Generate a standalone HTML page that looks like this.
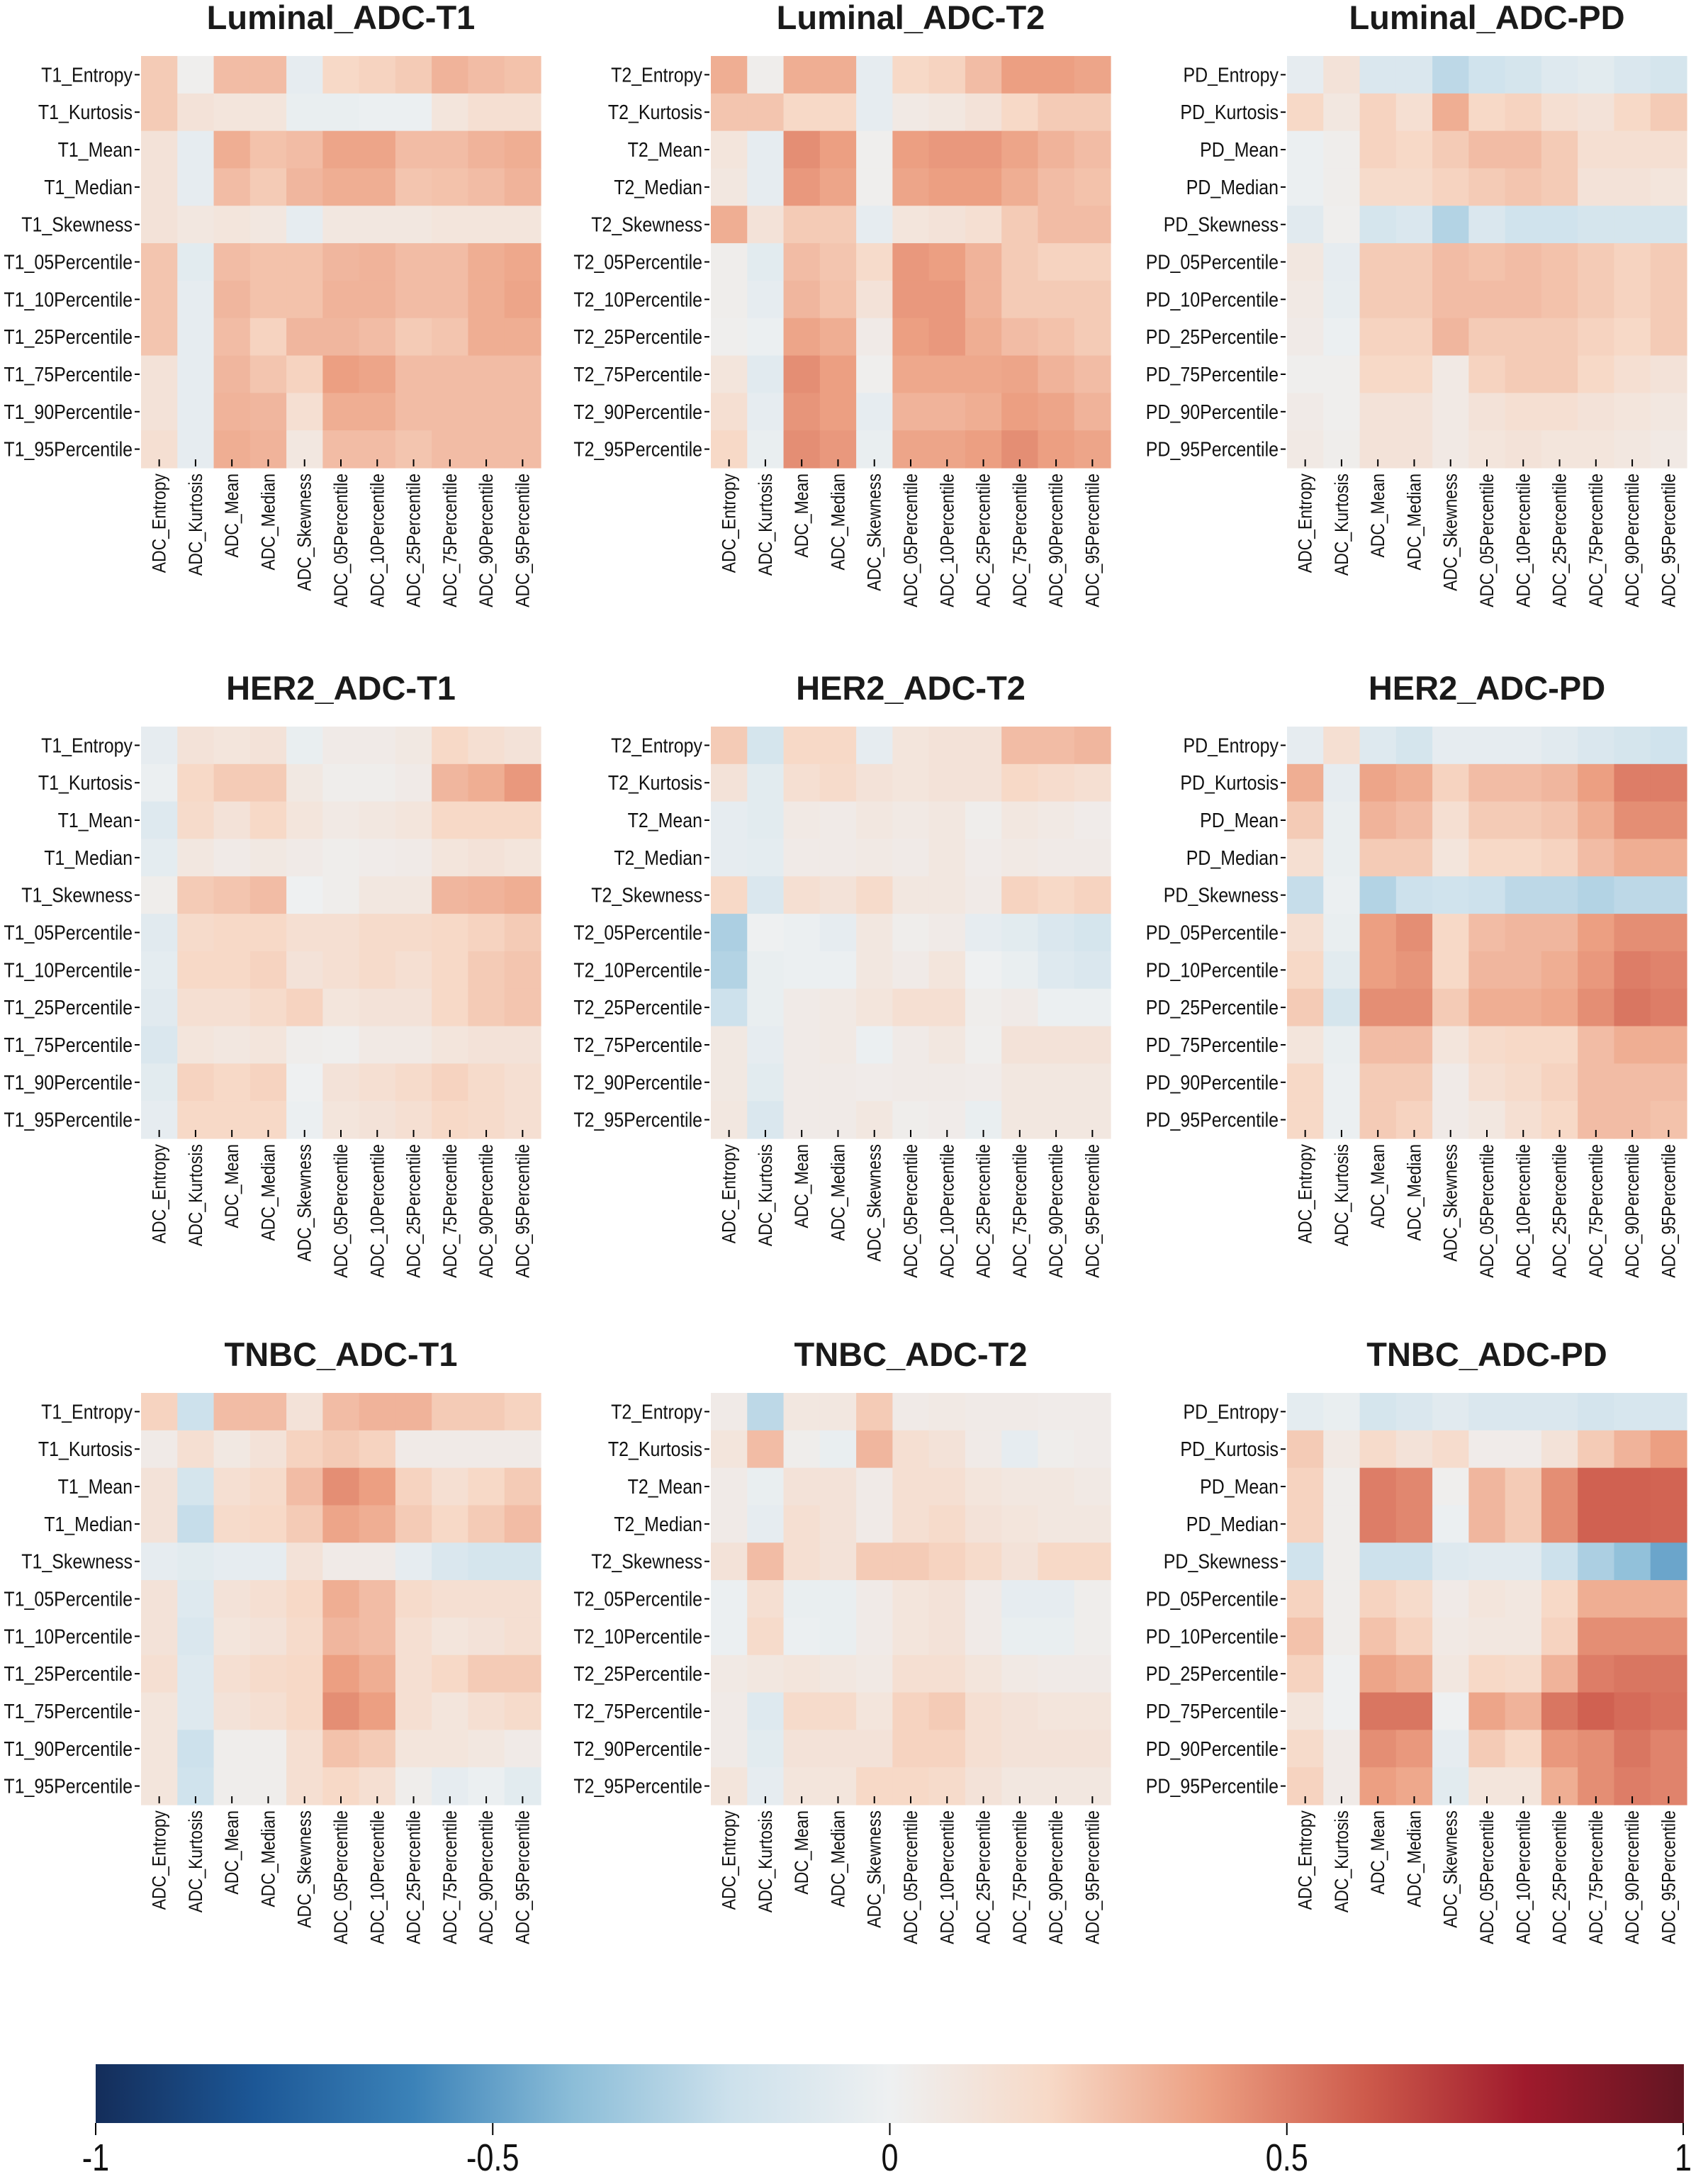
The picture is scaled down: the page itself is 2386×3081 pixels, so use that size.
<!DOCTYPE html>
<html><head><meta charset="utf-8">
<style>
html,body{margin:0;padding:0;background:#fff;}
svg{display:block;font-family:"Liberation Sans",Arial,sans-serif;}
</style></head>
<body>
<svg id="fig" xmlns="http://www.w3.org/2000/svg" width="2386" height="3081" viewBox="0 0 2386 3081">
<defs>
<linearGradient id="cbgrad" x1="0" x2="1" y1="0" y2="0">
<stop offset="0" stop-color="#142d5a"/><stop offset="0.1" stop-color="#1c5796"/><stop offset="0.2" stop-color="#3b82b8"/><stop offset="0.3" stop-color="#8bbdd8"/><stop offset="0.4" stop-color="#cde1ec"/><stop offset="0.5" stop-color="#eef0f1"/><stop offset="0.6" stop-color="#f7d9c7"/><stop offset="0.7" stop-color="#ec9f82"/><stop offset="0.8" stop-color="#cd5a4b"/><stop offset="0.9" stop-color="#9f1a2c"/><stop offset="1" stop-color="#631522"/>
</linearGradient>
</defs>
<g id="panels"></g>
<g id="colorbar">
<rect x="135" y="2912" width="2241" height="83" fill="url(#cbgrad)"/>
</g>
</svg>
<script>
const rowFeatures = ["Entropy","Kurtosis","Mean","Median","Skewness","05Percentile","10Percentile","25Percentile","75Percentile","90Percentile","95Percentile"];
const colLabels = ["ADC_Entropy","ADC_Kurtosis","ADC_Mean","ADC_Median","ADC_Skewness","ADC_05Percentile","ADC_10Percentile","ADC_25Percentile","ADC_75Percentile","ADC_90Percentile","ADC_95Percentile"];
const panelTitles = ["Luminal_ADC-T1","Luminal_ADC-T2","Luminal_ADC-PD","HER2_ADC-T1","HER2_ADC-T2","HER2_ADC-PD","TNBC_ADC-T1","TNBC_ADC-T2","TNBC_ADC-PD"];
const rowPrefixes = ["T1","T2","PD","T1","T2","PD","T1","T2","PD"];
const cbTicks = [-1,-0.5,0,0.5,1];
const cbTickLabels = ["-1","-0.5","0","0.5","1"];

const lumT1 = [
[.25,.02,.3,.3,-.05,.2,.22,.25,.33,.3,.28],
[.25,.12,.1,.1,-.03,-.03,-.02,-.02,.1,.15,.15],
[.12,-.05,.35,.28,.3,.38,.38,.3,.3,.33,.35],
[.12,-.05,.3,.25,.32,.35,.35,.27,.28,.3,.33],
[.12,.08,.1,.08,-.05,.08,.08,.08,.1,.1,.1],
[.27,-.07,.3,.28,.28,.32,.33,.3,.3,.35,.37],
[.27,-.05,.32,.28,.28,.33,.33,.3,.3,.35,.38],
[.27,-.05,.3,.22,.32,.32,.3,.25,.27,.35,.35],
[.12,-.05,.32,.27,.22,.4,.38,.3,.3,.3,.3],
[.12,-.05,.33,.32,.15,.35,.35,.3,.3,.3,.3],
[.15,-.05,.35,.33,.08,.3,.3,.27,.3,.3,.3]];
const lumT2 = [
[.35,.03,.35,.35,-.05,.2,.22,.3,.4,.4,.38],
[.27,.27,.2,.2,-.05,.06,.08,.12,.2,.25,.25],
[.1,-.05,.45,.4,.02,.4,.42,.42,.38,.33,.3],
[.08,-.05,.42,.38,.02,.38,.4,.4,.35,.3,.28],
[.35,.12,.25,.25,-.05,.1,.12,.15,.25,.3,.3],
[.03,-.07,.3,.27,.18,.42,.4,.33,.25,.22,.22],
[.03,-.05,.32,.28,.12,.42,.42,.33,.25,.25,.25],
[.02,-.02,.38,.35,.05,.4,.42,.35,.3,.28,.25],
[.1,-.08,.45,.4,.02,.37,.37,.37,.38,.33,.3],
[.15,-.05,.43,.4,-.05,.33,.33,.35,.4,.38,.33],
[.2,-.03,.45,.42,-.03,.38,.38,.4,.45,.4,.38]];
const lumPD = [
[-.05,.12,-.12,-.12,-.25,-.18,-.15,-.1,-.07,-.12,-.15],
[.2,.08,.22,.15,.35,.2,.22,.15,.12,.2,.25],
[-.02,.03,.22,.2,.25,.3,.3,.25,.15,.15,.15],
[-.02,.03,.18,.18,.22,.25,.27,.25,.12,.12,.1],
[-.08,.02,-.15,-.12,-.28,-.12,-.18,-.18,-.15,-.15,-.15],
[.08,-.05,.25,.25,.3,.28,.3,.28,.25,.22,.25],
[.06,-.04,.25,.25,.3,.3,.3,.28,.25,.22,.25],
[.05,-.02,.22,.22,.32,.25,.25,.25,.22,.2,.25],
[.02,.02,.2,.2,.06,.22,.25,.25,.2,.15,.12],
[.05,.02,.12,.12,.06,.12,.15,.15,.12,.1,.08],
[.06,.03,.12,.12,.06,.1,.12,.1,.1,.08,.06]];
const herT1 = [
[-.05,.12,.1,.12,-.03,.05,.05,.07,.2,.15,.12],
[-.02,.2,.25,.25,.07,.03,.03,.05,.32,.35,.42],
[-.1,.18,.12,.2,.1,.06,.08,.1,.2,.2,.2],
[-.06,.08,.05,.07,.05,.03,.04,.05,.1,.12,.1],
[.03,.25,.27,.3,.0,.03,.08,.08,.32,.33,.35],
[-.08,.18,.2,.2,.15,.15,.18,.18,.2,.22,.25],
[-.06,.2,.2,.22,.12,.15,.18,.15,.2,.25,.27],
[-.08,.15,.15,.18,.22,.1,.12,.12,.2,.25,.27],
[-.12,.1,.08,.1,.03,.02,.06,.06,.1,.12,.12],
[-.07,.22,.2,.22,.0,.12,.15,.18,.22,.18,.15],
[-.05,.2,.2,.2,-.02,.1,.12,.15,.2,.18,.15]];
const herT2 = [
[.25,-.15,.2,.2,-.05,.1,.12,.12,.3,.3,.32],
[.12,-.07,.15,.18,.12,.1,.12,.12,.2,.17,.15],
[-.05,-.07,.06,.05,.08,.06,.08,.03,.08,.06,.04],
[-.05,-.06,.05,.05,.06,.05,.08,.04,.06,.05,.05],
[.2,-.12,.15,.12,.18,.08,.08,.05,.22,.2,.22],
[-.3,.0,-.02,-.05,.08,.03,.05,-.05,-.07,-.12,-.15],
[-.28,-.03,-.02,-.02,.08,.05,.1,.0,-.03,-.1,-.12],
[-.2,-.03,.05,.06,.1,.15,.15,.03,.05,-.02,-.02],
[.07,-.05,.05,.06,-.02,.05,.08,.02,.12,.12,.12],
[.07,-.07,.05,.05,.04,.05,.05,.04,.08,.08,.08],
[.08,-.12,.05,.05,.08,.03,.04,-.03,.08,.08,.08]];
const herPD = [
[-.05,.15,-.1,-.15,-.05,-.05,-.05,-.08,-.12,-.15,-.18],
[.35,-.05,.38,.35,.22,.3,.3,.32,.4,.5,.5],
[.25,-.03,.33,.3,.15,.25,.25,.27,.35,.45,.45],
[.15,-.03,.25,.25,.1,.2,.2,.22,.3,.35,.35],
[-.22,-.02,-.28,-.2,-.18,-.2,-.25,-.25,-.28,-.25,-.25],
[.15,-.03,.4,.45,.2,.3,.32,.32,.4,.45,.45],
[.2,-.07,.4,.43,.2,.32,.32,.35,.42,.5,.48],
[.25,-.15,.45,.45,.25,.35,.35,.37,.45,.52,.5],
[.1,-.03,.3,.3,.1,.18,.2,.2,.3,.35,.35],
[.2,-.02,.25,.25,.05,.15,.18,.22,.3,.3,.3],
[.2,-.02,.25,.22,.05,.08,.15,.2,.3,.3,.28]];
const tnbT1 = [
[.22,-.2,.3,.3,.12,.3,.33,.33,.25,.25,.22],
[.05,.15,.07,.12,.22,.25,.22,.05,.05,.05,.05],
[.12,-.15,.15,.18,.3,.45,.4,.22,.15,.2,.25],
[.12,-.22,.18,.2,.25,.38,.35,.25,.2,.25,.3],
[-.05,-.07,-.05,-.05,.12,.05,.05,-.05,-.12,-.15,-.15],
[.12,-.1,.12,.15,.2,.35,.3,.18,.15,.15,.15],
[.12,-.12,.1,.12,.18,.32,.3,.15,.1,.12,.15],
[.15,-.1,.15,.18,.2,.4,.35,.15,.2,.25,.25],
[.1,-.1,.12,.15,.2,.45,.4,.15,.1,.15,.18],
[.1,-.2,.03,.03,.15,.28,.25,.1,.1,.08,.05],
[.1,-.18,.03,.03,.15,.2,.15,.03,-.05,-.02,-.07]];
const tnbT2 = [
[.05,-.25,.08,.08,.25,.05,.06,.05,.05,.04,.04],
[.1,.3,.03,-.03,.32,.15,.12,.05,-.05,.03,.04],
[.05,-.03,.12,.12,.05,.15,.15,.1,.08,.08,.06],
[.05,-.05,.15,.12,.05,.15,.18,.12,.1,.08,.08],
[.12,.3,.15,.12,.25,.25,.22,.18,.12,.2,.2],
[-.02,.15,-.03,-.03,.05,.1,.12,.05,-.05,-.05,.03],
[-.02,.18,-.02,-.03,.05,.1,.12,.05,-.03,-.03,.03],
[.06,.08,.1,.08,.06,.15,.15,.1,.06,.05,.05],
[.05,-.1,.18,.18,.1,.22,.25,.15,.12,.1,.1],
[.05,-.07,.12,.12,.12,.22,.22,.15,.12,.12,.12],
[.1,-.05,.1,.1,.2,.2,.18,.12,.08,.08,.08]];
const tnbPD = [
[-.06,-.03,-.15,-.12,-.08,-.12,-.12,-.12,-.16,-.14,-.14],
[.25,.06,.18,.12,.17,.04,.04,.12,.25,.33,.4],
[.22,.03,.5,.47,.02,.32,.25,.45,.58,.58,.57],
[.22,.03,.5,.47,-.02,.32,.25,.45,.58,.58,.57],
[-.18,.03,-.2,-.2,-.1,-.08,-.08,-.2,-.3,-.38,-.48],
[.22,.03,.22,.18,.05,.1,.08,.2,.35,.35,.35],
[.28,.03,.28,.22,.06,.08,.08,.22,.45,.45,.45],
[.22,.0,.38,.35,.08,.2,.18,.33,.5,.52,.52],
[.1,.0,.52,.52,.0,.38,.33,.52,.58,.55,.53],
[.18,.05,.45,.42,-.05,.25,.2,.42,.45,.52,.48],
[.22,.05,.4,.37,-.07,.1,.1,.35,.45,.5,.48]];
const panelData = [lumT1,lumT2,lumPD,herT1,herT2,herPD,tnbT1,tnbT2,tnbPD];

const NS = "http://www.w3.org/2000/svg";
const colX = [199, 1003, 1816];
const rowY = [79, 1025, 1965];
const HW = 564, HH = 581;
const stops = [[-1,[20,45,90]],[-0.8,[28,87,150]],[-0.6,[59,130,184]],[-0.4,[139,189,216]],[-0.2,[205,225,236]],[0,[238,240,241]],[0.2,[247,217,199]],[0.4,[236,159,130]],[0.6,[205,90,75]],[0.8,[159,26,44]],[1,[99,21,34]]];
function colorOf(v){
  v=Math.max(-1,Math.min(1,v));
  for(let i=0;i<stops.length-1;i++){
    const a=stops[i],b=stops[i+1];
    if(v<=b[0]){const t=(v-a[0])/(b[0]-a[0]);
      const c=a[1].map((x,k)=>Math.round(x+(b[1][k]-x)*t));
      return "rgb("+c.join(",")+")";}
  }
  return "rgb(99,21,34)";
}
function mk(tag,attrs,parent){const e=document.createElementNS(NS,tag);for(const k in attrs)e.setAttribute(k,attrs[k]);parent.appendChild(e);return e;}
function squeeze(t,f){const L=t.getComputedTextLength();t.setAttribute("textLength",(L*f).toFixed(1));t.setAttribute("lengthAdjust","spacingAndGlyphs");}

const root=document.getElementById("panels");
panelData.forEach((data,p)=>{
  const x0=colX[p%3], y0=rowY[Math.floor(p/3)];
  const n=rowFeatures.length, cw=HW/colLabels.length, ch=HH/n;
  const xScale=j=>x0+j*cw, yScale=i=>y0+i*ch;
  const g=mk("g",{},root);
  
  
  const title=mk("text",{x:x0+HW/2,y:y0-38,"text-anchor":"middle","font-size":"47","font-weight":"bold",fill:"#1a1a1a"},g);
  title.textContent=panelTitles[p];
  
  
  data.forEach((row,i)=>row.forEach((v,j)=>{
    const r=mk("rect",{x:xScale(j).toFixed(2),y:yScale(i).toFixed(2),width:(cw+0.6).toFixed(2),height:(ch+0.6).toFixed(2),fill:colorOf(v)},g);
    
    
  }));
  rowFeatures.forEach((f,i)=>{
    const yc=yScale(i)+ch/2;
    const tk=mk("line",{x1:x0-9,x2:x0-2,y1:yc,y2:yc,stroke:"#000","stroke-width":"2"},g);
    
    
    const t=mk("text",{x:x0-12,y:yc+10,"text-anchor":"end","font-size":"29",fill:"#111"},g);
    t.textContent=rowPrefixes[p]+"_"+f;
    
    
    squeeze(t,0.86);
  });
  colLabels.forEach((c,j)=>{
    const xc=xScale(j)+cw/2;
    const tk=mk("line",{x1:xc,x2:xc,y1:y0+HH-12,y2:y0+HH-2,stroke:"#000","stroke-width":"2"},g);
    
    
    const t=mk("text",{x:0,y:0,"text-anchor":"end","font-size":"27",fill:"#111",transform:"translate("+(xc+9)+","+(y0+HH+8)+") rotate(-90)"},g);
    t.textContent=c;
    
    
    squeeze(t,0.85);
  });
});

const cb=document.getElementById("colorbar");
const cbX=v=>135+(v+1)/2*2241;
cbTicks.forEach((v,k)=>{
  const x=Math.min(cbX(v),2375);
  const l=mk("line",{x1:x,x2:x,y1:2995,y2:3012,stroke:"#000","stroke-width":"2"},cb);
  
  
  const t=mk("text",{x:x,y:3062,"text-anchor":"middle","font-size":"54",fill:"#111"},cb);
  t.textContent=cbTickLabels[k];
  
  
  squeeze(t,0.8);
});
</script>
</body></html>
